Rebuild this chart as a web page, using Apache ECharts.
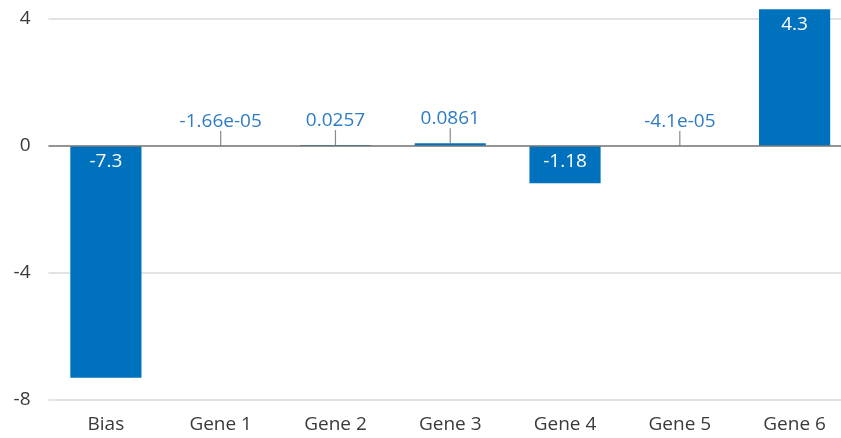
<!DOCTYPE html>
<html><head><meta charset="utf-8">
<script src="https://cdn.jsdelivr.net/npm/echarts@6/dist/echarts.min.js"></script>
<style>html,body{margin:0;padding:0;background:#fff;overflow:hidden}#c{width:852px;height:438px}</style>
</head><body><div id="c"></div>
<script>
const categories = ['Bias','Gene 1','Gene 2','Gene 3','Gene 4','Gene 5','Gene 6'];
const values = [-7.3, -0.0000166, 0.0257, 0.0861, -1.18, -0.000041, 4.3];
const yTicks = [-8, -4, 0, 4];

function fmtG(v){
  const a = Math.abs(v);
  if (a !== 0 && a < 1e-4) {
    let s = v.toExponential(2);
    let [m, e] = s.split('e');
    if (m.indexOf('.') >= 0) m = m.replace(/0+$/,'').replace(/\.$/,'');
    const sign = e[0] === '-' ? '-' : '+';
    let d = e.replace(/^[+-]/,'');
    if (d.length < 2) d = '0' + d;
    return m + 'e' + sign + d;
  }
  return String(parseFloat(v.toPrecision(3)));
}

const BIG = 0.5;
const isBig = v => Math.abs(v) > BIG;
const data = values.map(v => ({
  value: v,
  label: isBig(v) ? {position:'insideTop', color:'#ffffff', distance:6}
                  : {position:'top', color:'#2e7cc6', distance:2}
}));

const chart = echarts.init(document.getElementById('c'), null, {renderer:'canvas'});
chart.setOption({
  animation:false,
  grid:{left:48.5, right:0, top:9.3, bottom:38, containLabel:false},
  xAxis:{
    type:'category', data:categories,
    axisLine:{show:false}, axisTick:{show:false},
    axisLabel:{color:'#3a3a3a', fontSize:19, fontFamily:'Open Sans', margin:15}
  },
  yAxis:{
    type:'value', min:yTicks[0], max:4.3, interval:4,
    axisLine:{show:false}, axisTick:{show:false},
    axisLabel:{color:'#3a3a3a', fontSize:19, fontFamily:'Open Sans', margin:18, showMaxLabel:false,
      formatter:v => yTicks.indexOf(v) >= 0 ? String(v) : ''},
    splitLine:{lineStyle:{color:'#e3e3e3', width:2}, showMaxLine:false}
  },
  series:[{
    type:'bar', data:data, barWidth:'62%',
    itemStyle:{color:'#0072bd'},
    label:{show:true, fontSize:19, fontFamily:'Open Sans', formatter:p => fmtG(p.value)},
    labelLayout: p => isBig(values[p.dataIndex]) ? {} : {dy:-13},
    labelLine:{show:true, lineStyle:{color:'#8a8a8a', width:1.2}},
    markLine:{silent:true, symbol:'none', label:{show:false},
      lineStyle:{color:'#7a7a7a', width:1.5, type:'solid'}, data:[{yAxis:0}]}
  }]
});
</script></body></html>
